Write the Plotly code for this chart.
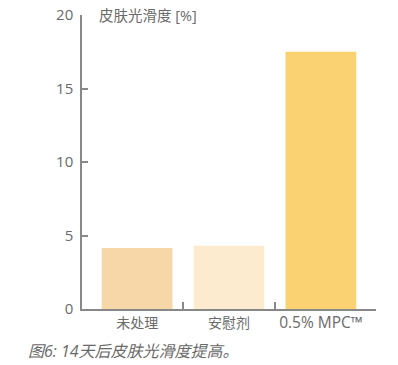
import plotly.graph_objects as go

categories = ["未处理", "安慰剂", "0.5% MPC™"]
values = [4.15, 4.3, 17.5]
colors = ["#F7D7A8", "#FCEBCF", "#FBD272"]
y_ticks = [0, 5, 10, 15, 20]
y_title = "皮肤光滑度 [%]"
caption = "图6: 14天后皮肤光滑度提高。"

FONT = "Open Sans, Noto Sans CJK SC, sans-serif"
GREY = "#6a6a6a"
AXIS = "#888888"

x_pos = list(range(len(categories)))
tick_text = [categories[0], categories[1], "<span style='font-size:15.5px'>" + categories[2] + "</span>"]

fig = go.Figure()
fig.add_trace(go.Bar(x=x_pos, y=values, marker=dict(color=colors, line=dict(width=0)),
                     width=0.77, hoverinfo="skip", showlegend=False))
# invisible trace for the second x axis (separator ticks)
fig.add_trace(go.Scatter(x=[0.5], y=[0], xaxis="x2", mode="markers",
                         marker=dict(opacity=0), showlegend=False, hoverinfo="skip"))

fig.update_layout(
    width=398, height=365,
    margin=dict(l=82, r=22, t=15, b=56, autoexpand=False),
    plot_bgcolor="white", paper_bgcolor="white",
    font=dict(family=FONT, size=14, color=GREY),
    xaxis=dict(range=[-0.6, 2.6], tickvals=x_pos, ticktext=tick_text,
               showline=True, linecolor=AXIS, linewidth=1.5, ticks="",
               showgrid=False, zeroline=False, tickfont=dict(size=14, color=GREY),
               automargin=False),
    xaxis2=dict(range=[-0.6, 2.6], overlaying="x", anchor="y", side="bottom",
                tickvals=[0.5, 1.5, 2.6], showticklabels=False, ticks="inside",
                ticklen=7, tickwidth=1.5, tickcolor=AXIS, showgrid=False,
                zeroline=False, showline=False, automargin=False),
    yaxis=dict(range=[0, 20], tickvals=y_ticks, showline=True, linecolor=AXIS,
               linewidth=1.5, ticks="inside", ticklen=6, tickwidth=1.5, tickcolor=AXIS,
               showgrid=False, zeroline=False, tickfont=dict(size=15, color=GREY),
               ticklabelstandoff=4, automargin=False),
    annotations=[
        dict(text=y_title, xref="paper", yref="y", x=0.05, y=20, xanchor="left",
             yanchor="middle", showarrow=False, font=dict(size=14.5, color=GREY, family=FONT)),
        dict(text="<i>" + caption + "</i>", xref="paper", yref="paper", x=-0.19, y=-0.143,
             xanchor="left", yanchor="middle", showarrow=False,
             font=dict(size=16, color=GREY, family=FONT)),
    ],
)

fig.write_html("out.html")
